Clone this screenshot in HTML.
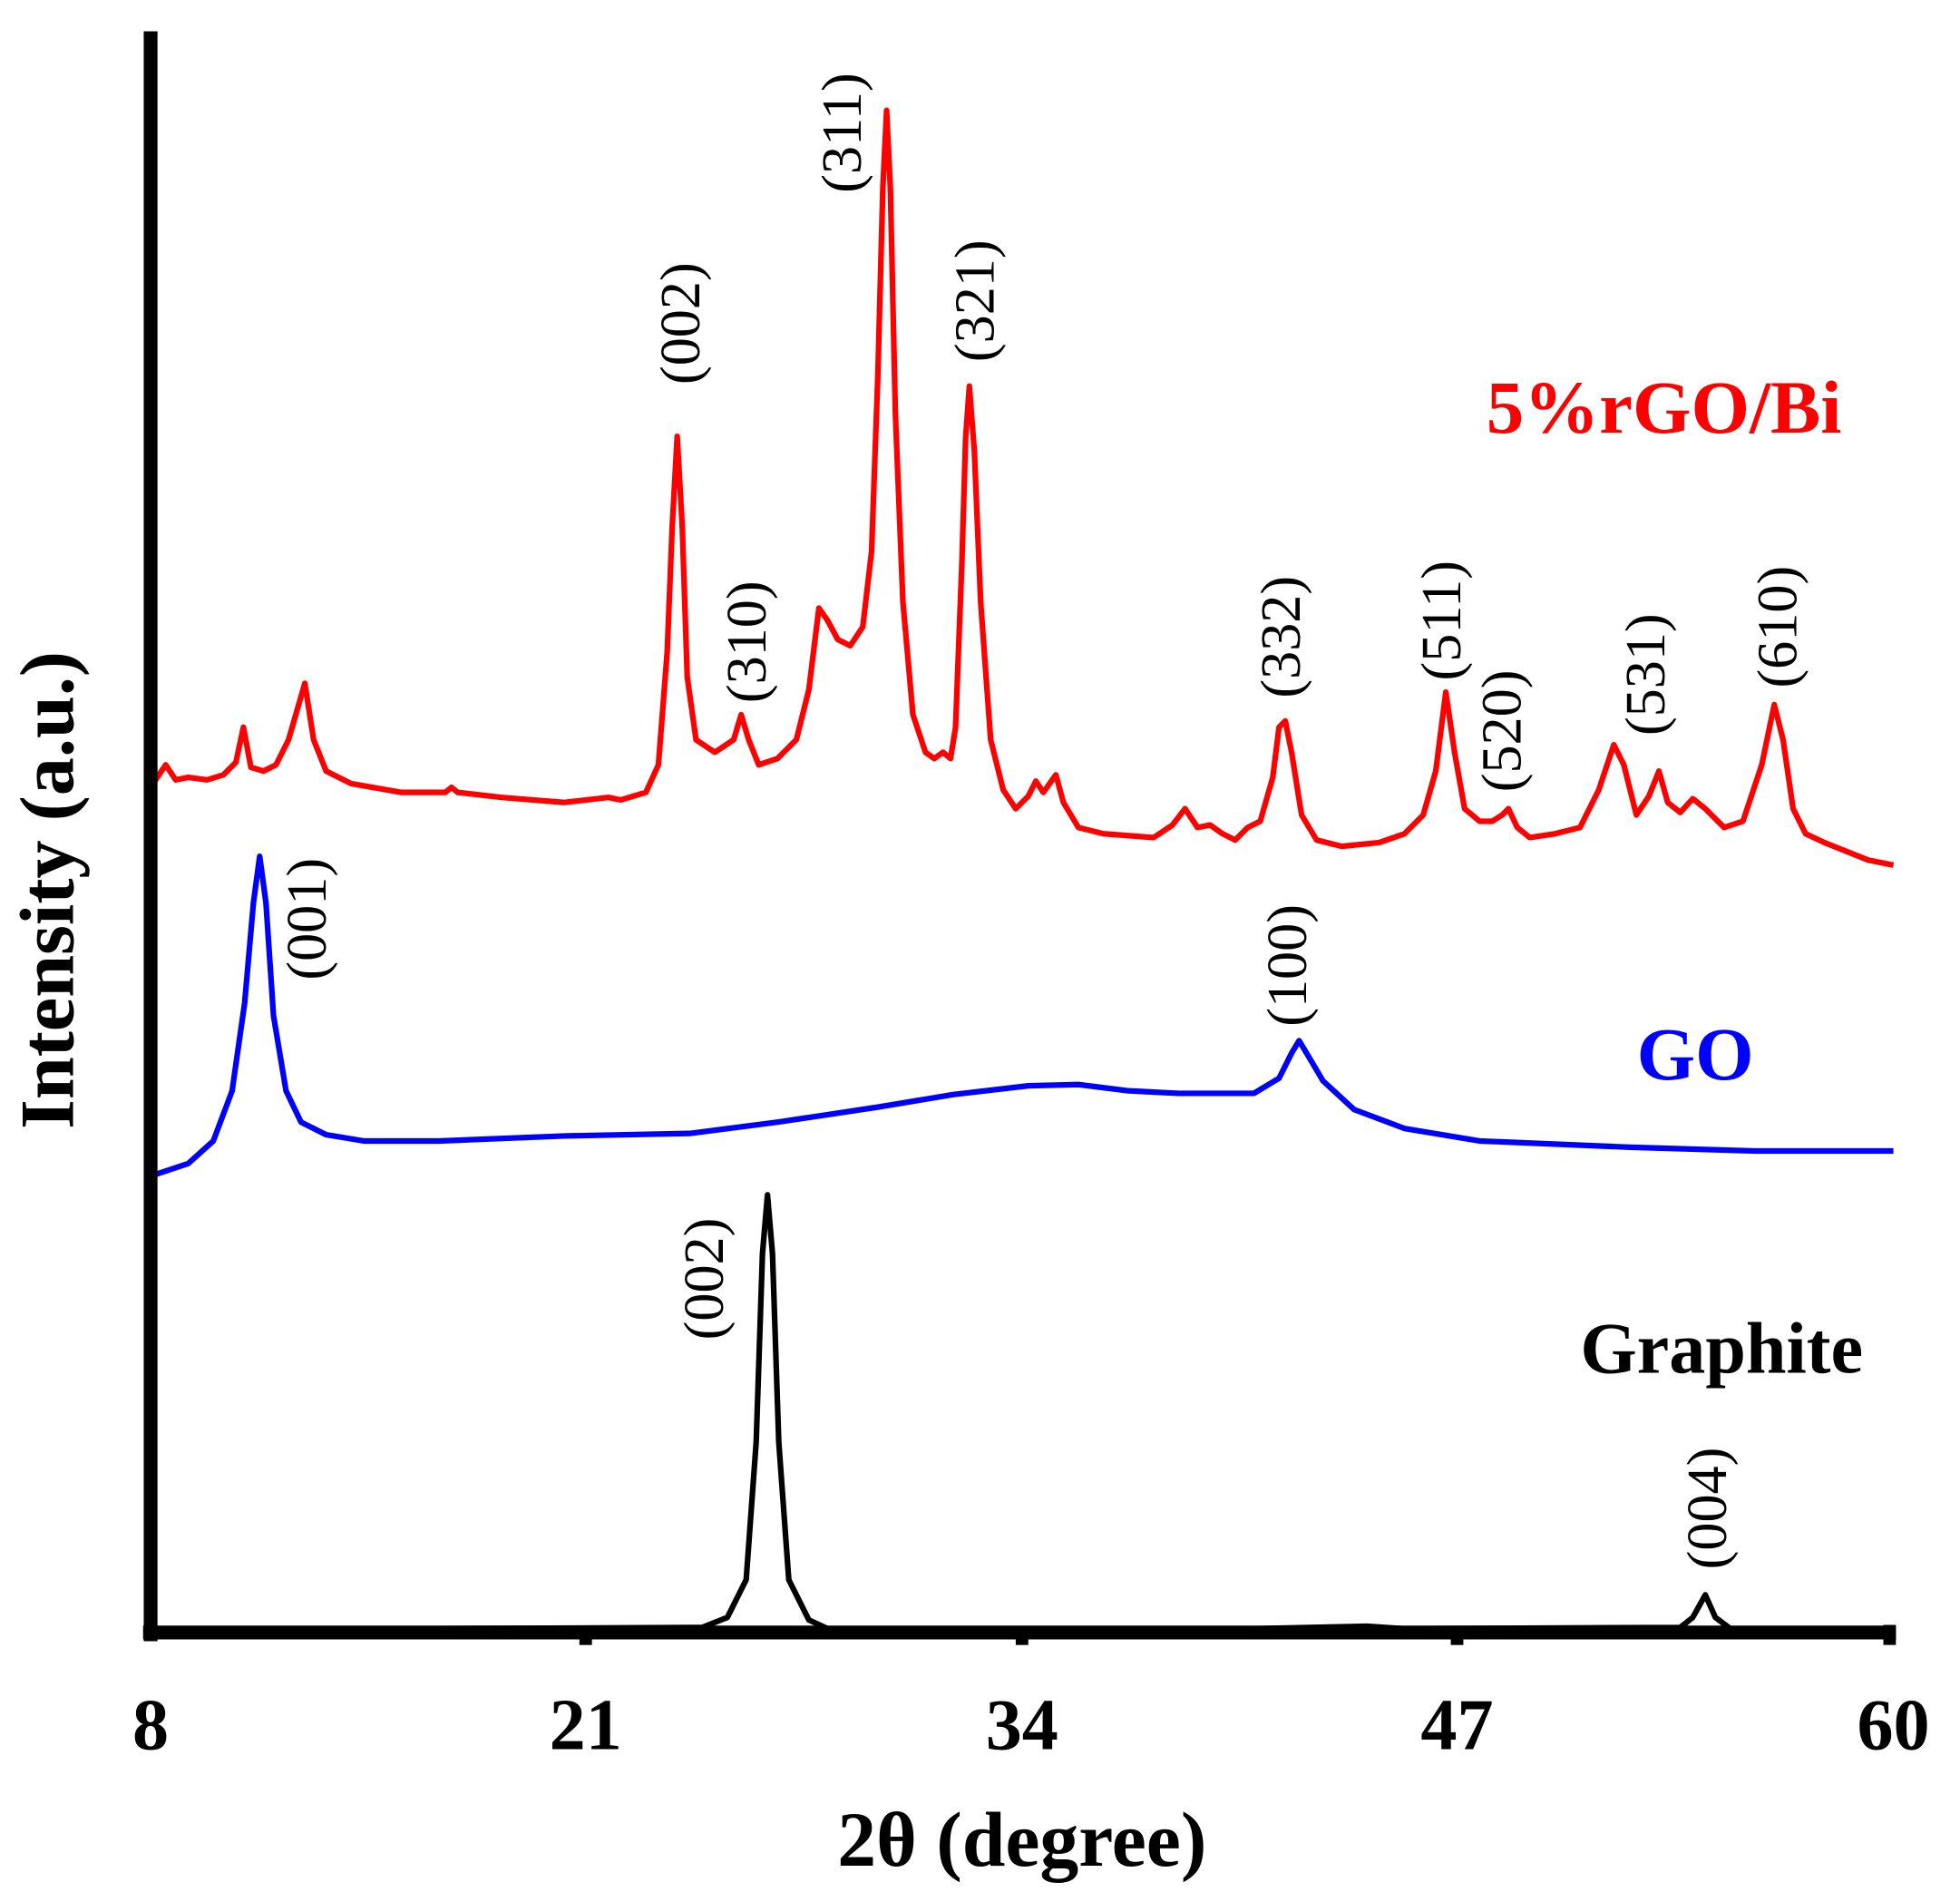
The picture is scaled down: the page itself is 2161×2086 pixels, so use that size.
<!DOCTYPE html>
<html><head><meta charset="utf-8"><style>html,body{margin:0;padding:0;background:#fff}svg{display:block}</style></head>
<body>
<svg width="2161" height="2086" viewBox="0 0 1563 1509" xmlns="http://www.w3.org/2000/svg" font-family="Liberation Serif, serif">
<rect width="1563" height="1509" fill="#fff"/>
<polyline fill="none" stroke="#f00" stroke-width="4.5" stroke-linejoin="round" points="120,628 132,610 140,622 150,620 165,622 178,618 188,608 194,580 200,612 210,615 220,610 230,590 243,545 250,590 260,615 280,625 320,632 355,632 360,628 365,632 400,636 450,640 485,636 495,638 515,632 525,610 532,520 536,420 540,348 544,420 548,540 555,590 570,600 585,590 591,570 597,590 605,610 620,605 635,590 645,550 653,485 660,495 668,510 678,515 688,500 695,440 700,300 704,150 707,88 710,150 714,330 720,480 728,570 738,600 745,605 752,600 758,605 762,580 767,450 770,350 773,308 777,360 782,480 790,590 800,630 810,645 820,635 826,623 832,632 842,618 848,640 860,660 880,665 920,668 935,658 945,645 955,660 965,658 975,665 985,670 995,660 1005,655 1015,620 1020,580 1025,575 1030,600 1038,650 1050,670 1070,675 1100,672 1120,665 1135,650 1145,615 1153,552 1160,600 1168,645 1180,655 1190,655 1198,650 1203,645 1210,660 1220,668 1240,665 1260,660 1275,630 1287,594 1295,610 1305,650 1315,635 1323,615 1330,640 1340,648 1350,637 1360,645 1375,660 1390,655 1405,610 1415,562 1422,590 1430,645 1440,665 1455,672 1470,678 1490,686 1510,690"/>
<polyline fill="none" stroke="#00f" stroke-width="4.5" stroke-linejoin="round" points="120,938 150,928 170,910 185,870 195,800 202,720 207,683 212,720 218,810 228,870 240,895 260,905 290,910 350,910 450,906 550,904 620,895 700,883 760,873 820,866 860,865 900,870 940,872 960,872 1000,872 1020,860 1030,840 1036,830 1042,840 1055,862 1080,885 1120,900 1180,910 1300,915 1400,918 1510,918"/>
<polyline fill="none" stroke="#000" stroke-width="4.5" stroke-linejoin="round" points="120,1300 560,1298 580,1290 595,1260 603,1150 608,1000 612,953 616,1000 621,1150 629,1260 645,1292 660,1299 1000,1299 1090,1297 1120,1299 1340,1298 1350,1290 1360,1272 1368,1290 1380,1299 1510,1300"/>
<line x1="120" y1="25" x2="120" y2="1309" stroke="#000" stroke-width="11"/>
<line x1="114" y1="1302" x2="1512" y2="1302" stroke="#000" stroke-width="11"/>
<g stroke="#000" stroke-width="10">
<line x1="467" y1="1302" x2="467" y2="1312"/><line x1="815" y1="1302" x2="815" y2="1312"/><line x1="1162" y1="1302" x2="1162" y2="1312"/><line x1="1507" y1="1296" x2="1507" y2="1312"/>
</g>
<g font-size="58" font-weight="bold" text-anchor="middle">
<text x="120" y="1395">8</text><text x="467" y="1395">21</text><text x="815" y="1395">34</text><text x="1162" y="1395">47</text><text x="1510" y="1395">60</text>
</g>
<text x="815" y="1488" font-size="62" font-weight="bold" text-anchor="middle">2θ (degree)</text>
<text transform="translate(58,710) rotate(-90)" font-size="61" font-weight="bold" text-anchor="middle">Intensity (a.u.)</text>
<g font-size="45" text-anchor="middle" dominant-baseline="central">
<text transform="translate(543,258) rotate(-90)">(002)</text>
<text transform="translate(596,512) rotate(-90)">(310)</text>
<text transform="translate(672,106) rotate(-90)">(311)</text>
<text transform="translate(778,240) rotate(-90)">(321)</text>
<text transform="translate(1022,508) rotate(-90)">(332)</text>
<text transform="translate(1150,495) rotate(-90)">(511)</text>
<text transform="translate(1198,583) rotate(-90)">(520)</text>
<text transform="translate(1313,538) rotate(-90)">(531)</text>
<text transform="translate(1418,500) rotate(-90)">(610)</text>
<text transform="translate(245,733) rotate(-90)">(001)</text>
<text transform="translate(1027,770) rotate(-90)">(100)</text>
<text transform="translate(562,1020) rotate(-90)">(002)</text>
<text transform="translate(1362,1203) rotate(-90)">(004)</text>
</g>
<g font-weight="bold" text-anchor="middle">
<text x="1327" y="345" fill="#f00" font-size="60">5%rGO/Bi</text>
<text x="1352" y="861" fill="#00f" font-size="60">GO</text>
<text x="1373" y="1095" fill="#000" font-size="58">Graphite</text>
</g>
</svg>
</body></html>
